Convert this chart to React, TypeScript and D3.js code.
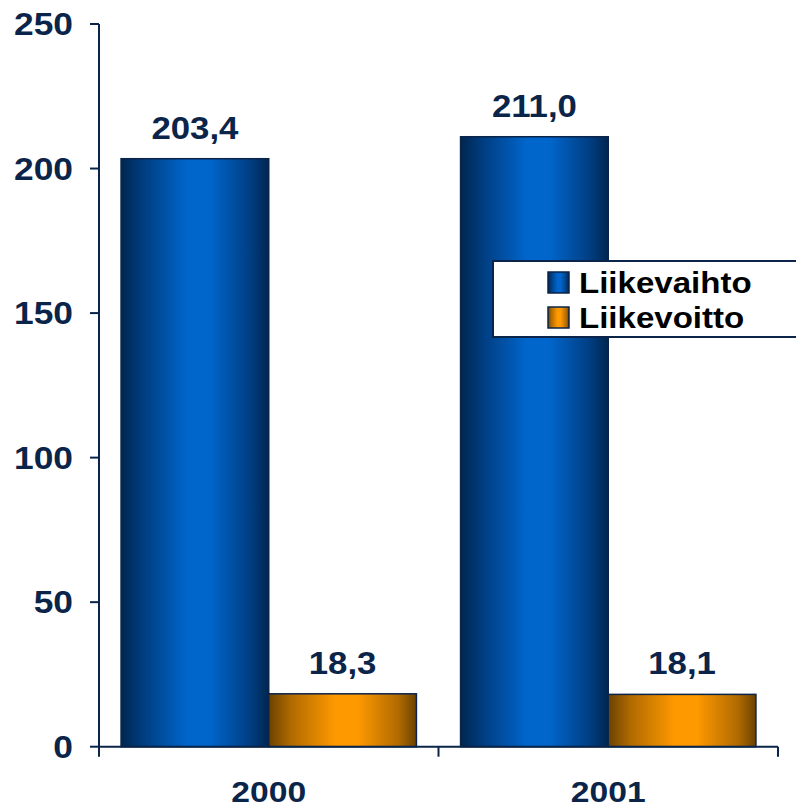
import * as d3 from "d3";

const categories = ["2000", "2001"];
const seriesNames = ["Liikevaihto", "Liikevoitto"];
const liikevaihto = [203.4, 211.0];
const liikevoitto = [18.3, 18.1];
const yTicks = [0, 50, 100, 150, 200, 250];

const W = 796;
const H = 810;
const navy = "#0b2449";
const font = "'Liberation Sans', Arial, sans-serif";
// the original text is drawn a little wider than Arial Bold
const SX = 1.14;

const gradients = [
  { id: "gBlue", edge: "#00264f", mid: "#003d80", peak: "#0066cc" },
  { id: "gOrange", edge: "#6a4200", mid: "#b06a00", peak: "#ff9900" },
];

function WideText(props: {
  x: number;
  y: number;
  size: number;
  anchor?: "start" | "middle" | "end";
  fill?: string;
  dy?: string;
  children: React.ReactNode;
}) {
  const { x, y, size, anchor = "start", fill = navy, dy, children } = props;
  return (
    <text
      transform={`translate(${x},${y}) scale(${SX},1)`}
      dy={dy}
      textAnchor={anchor}
      fontSize={size}
      fontWeight="bold"
      fill={fill}
    >
      {children}
    </text>
  );
}

export default function App() {
  const x0 = 99;
  const x1 = 778;
  const yBase = 746.7;
  const yTop = 24;

  const x = d3.scaleBand<string>().domain(categories).range([x0, x1]).paddingInner(0.13).paddingOuter(0.065);
  const xs = d3.scaleBand<string>().domain(seriesNames).range([0, x.bandwidth()]);
  const y = d3.scaleLinear().domain([0, 250]).range([yBase, yTop]);

  const series = [liikevaihto, liikevoitto];
  const fmt = (v: number) => v.toFixed(1).replace(".", ",");
  const step = x.step();

  return (
    <svg width={W} height={H} style={{ position: "absolute", left: 0, top: 0, background: "#fff" }} fontFamily={font}>
      <defs>
        {gradients.map((g) => (
          <linearGradient key={g.id} id={g.id} x1="0" x2="1" y1="0" y2="0">
            <stop offset="0%" stopColor={g.edge} />
            <stop offset="15%" stopColor={g.mid} />
            <stop offset="45%" stopColor={g.peak} />
            <stop offset="60%" stopColor={g.peak} />
            <stop offset="88%" stopColor={g.mid} />
            <stop offset="100%" stopColor={g.edge} />
          </linearGradient>
        ))}
      </defs>

      {/* bars */}
      {categories.map((c, i) =>
        seriesNames.map((s, j) => {
          const v = series[j][i];
          const bx = (x(c) ?? 0) + (xs(s) ?? 0);
          const bw = xs.bandwidth();
          return (
            <g key={c + s}>
              <rect
                x={bx}
                y={y(v)}
                width={bw}
                height={y(0) - y(v)}
                fill={`url(#${gradients[j].id})`}
                stroke={navy}
                strokeWidth={1.5}
              />
              <WideText x={bx + bw / 2} y={y(v) - 20} size={30.5} anchor="middle">
                {fmt(v)}
              </WideText>
            </g>
          );
        })
      )}

      {/* y axis */}
      <line x1={x0} x2={x0} y1={yTop} y2={yBase} stroke={navy} strokeWidth={2} />
      {yTicks.map((t) => (
        <g key={t}>
          <line x1={x0 - 9} x2={x0} y1={y(t)} y2={y(t)} stroke={navy} strokeWidth={2} />
          <WideText x={73} y={y(t)} dy="0.36em" size={31} anchor="end">
            {t}
          </WideText>
        </g>
      ))}

      {/* x axis */}
      <line x1={x0} x2={x1} y1={yBase} y2={yBase} stroke={navy} strokeWidth={2} />
      {d3.range(categories.length + 1).map((k) => {
        const tx = x0 + k * step;
        return <line key={k} x1={tx} x2={tx} y1={yBase} y2={yBase + 10} stroke={navy} strokeWidth={2} />;
      })}
      {categories.map((c) => (
        <WideText key={c} x={(x(c) ?? 0) + x.bandwidth() / 2} y={802} size={29.5} anchor="middle">
          {c}
        </WideText>
      ))}

      {/* legend */}
      <g>
        <rect x={493} y={261} width={320} height={76} fill="#fff" stroke={navy} strokeWidth={2} />
        {seriesNames.map((s, j) => (
          <g key={s} transform={`translate(548, ${272 + j * 35})`}>
            <rect x={0} y={0} width={21} height={21} fill={`url(#${gradients[j].id})`} stroke={navy} strokeWidth={1.5} />
            <WideText x={31} y={21} size={29} fill="#000">
              {s}
            </WideText>
          </g>
        ))}
      </g>
    </svg>
  );
}
